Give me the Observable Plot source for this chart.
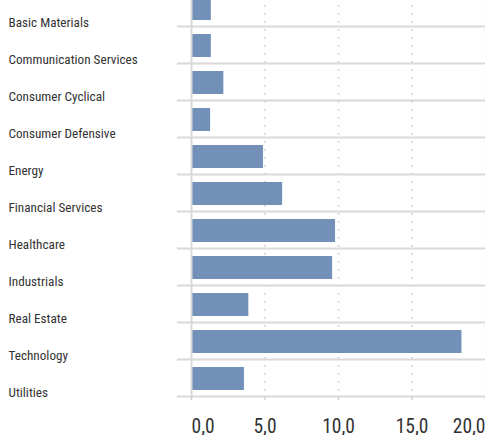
<!DOCTYPE html>
<html>
<head>
<meta charset="utf-8">
<script src="https://cdn.jsdelivr.net/npm/d3@7"></script>
<script src="https://cdn.jsdelivr.net/npm/@observablehq/plot@0.6"></script>
<style>
  html, body { margin: 0; padding: 0; background: #fff; }
  svg { font-family: "Roboto Condensed", "Liberation Sans Narrow", "DejaVu Sans Condensed", "Arial Narrow", Roboto, sans-serif; font-stretch: condensed; }
</style>
</head>
<body>
<div id="chart"></div>
<script>
const sectors = ["Basic Materials", "Communication Services", "Consumer Cyclical", "Consumer Defensive", "Energy", "Financial Services", "Healthcare", "Industrials", "Real Estate", "Technology", "Utilities"];
const weights = [1.35, 1.35, 2.2, 1.3, 4.9, 6.2, 9.8, 9.6, 3.9, 18.4, 3.6];
const xTicks = [0, 5, 10, 15, 20];

const rows = sectors.map((s, i) => ({sector: s, value: weights[i], i}));
const boundaries = d3.range(1, sectors.length + 1);
const fmt = d => d.toFixed(1).replace(".", ",");
const axisOpts = {label: null, tickSize: 4, tickPadding: 19, stroke: "#d0d0d0", strokeWidth: 1.5, tickFormat: fmt, fontSize: 19.5, fill: "#333"};

const chart = Plot.plot({
  width: 485,
  height: 435,
  marginLeft: 177,
  marginRight: 0,
  marginTop: 0,
  marginBottom: 39,
  x: {domain: [0, 20], range: [191, 485], axis: null},
  y: {domain: [0, sectors.length], range: [-11, 396], axis: null},
  style: {background: "#fff", overflow: "hidden"},
  marks: [
    Plot.ruleX(xTicks.slice(1), {stroke: "#c8c8c8", strokeWidth: 1.6, strokeDasharray: "1.6,6.4", y1: 0, y2: sectors.length}),
    Plot.ruleY(boundaries, {stroke: "#d9d9d9", strokeWidth: 2}),
    Plot.rect(rows, {x1: 0, x2: "value", y1: "i", y2: d => d.i + 1, insetTop: 8, insetBottom: 6, fill: "#7391b8"}),
    Plot.ruleX([0], {stroke: "#d9d9d9", strokeWidth: 2, y1: 0, y2: sectors.length}),
    Plot.axisX(xTicks.slice(0, 1), {...axisOpts, textAnchor: "start"}),
    Plot.axisX(xTicks.slice(1, -1), axisOpts),
    Plot.axisX(xTicks.slice(-1), {...axisOpts, textAnchor: "end"}),
    Plot.text(rows, {
      y: d => d.i + 1,
      text: "sector",
      frameAnchor: "left",
      dx: -169,
      dy: -4,
      textAnchor: "start",
      fontSize: 13.2,
      fill: "#333"
    })
  ]
});
document.getElementById("chart").append(chart);
</script>
</body>
</html>
